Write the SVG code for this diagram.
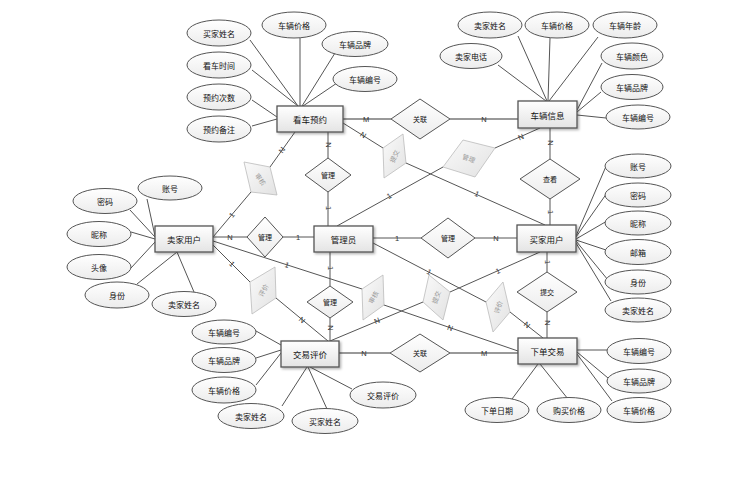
<svg xmlns="http://www.w3.org/2000/svg" width="752" height="485" viewBox="0 0 752 485">
<defs>
<linearGradient id="gE" x1="0" y1="0" x2="0" y2="1"><stop offset="0" stop-color="#ffffff"/><stop offset="1" stop-color="#e4e4e4"/></linearGradient>
<linearGradient id="gA" x1="0" y1="0" x2="0" y2="1"><stop offset="0" stop-color="#ffffff"/><stop offset="1" stop-color="#ececec"/></linearGradient>
<linearGradient id="gG" x1="0" y1="0" x2="1" y2="1"><stop offset="0" stop-color="#fafafa"/><stop offset="1" stop-color="#e2e2e2"/></linearGradient>
<filter id="sh" x="-20%" y="-20%" width="140%" height="150%"><feDropShadow dx="1.5" dy="1.5" stdDeviation="1" flood-color="#000" flood-opacity="0.3"/></filter>
</defs>
<style>
text{font-family:"Noto Sans CJK SC","Liberation Sans",sans-serif;text-anchor:middle;dominant-baseline:central;fill:#111}
.ent rect{fill:url(#gE);stroke:#555;stroke-width:1.3;filter:url(#sh)}
.ent text{font-size:8.5px}
.att ellipse{fill:url(#gA);stroke:#555;stroke-width:1}
.att text{font-size:8px}
.rel polygon{fill:url(#gA);stroke:#555;stroke-width:1}
.rel text{font-size:7px}
.grey polygon{fill:url(#gG);stroke:#bbb;stroke-width:0.8}
.grey text{font-size:6.5px;fill:#999}
.ln line{stroke:#555;stroke-width:1}
.ln line.thick{stroke:#999;stroke-width:2}
.lbl text{font-family:"Liberation Sans",sans-serif;font-size:7.5px;fill:#333}
</style>
<rect width="752" height="485" fill="#fff"/>
<g id="connectors" class="ln">
<!-- attribute lines 看车预约 -->
<line x1="250" y1="40" x2="298" y2="106"/>
<line x1="252" y1="70" x2="298" y2="106"/>
<line x1="300" y1="38" x2="300" y2="106"/>
<line x1="335" y1="53" x2="302" y2="106"/>
<line x1="337" y1="83" x2="303" y2="106"/>
<line x1="252" y1="100" x2="277" y2="117"/>
<line x1="252" y1="126" x2="277" y2="119"/>
<!-- 车辆信息 -->
<line x1="518" y1="36" x2="547" y2="101"/>
<line x1="550" y1="38" x2="548" y2="101"/>
<line x1="598" y1="37" x2="549" y2="101"/>
<line x1="498" y1="65" x2="546" y2="101"/>
<line x1="602" y1="63" x2="577" y2="110"/>
<line x1="601" y1="92" x2="577" y2="112"/>
<line x1="606" y1="118" x2="577" y2="115"/>
<!-- 卖家用户 -->
<line x1="147" y1="199" x2="155" y2="236"/>
<line x1="130" y1="210" x2="155" y2="237"/>
<line x1="131" y1="232" x2="155" y2="239"/>
<line x1="131" y1="268" x2="155" y2="242"/>
<line x1="137" y1="284" x2="177" y2="252"/>
<line x1="194" y1="292" x2="177" y2="252"/>
<!-- 买家用户 -->
<line x1="576" y1="236" x2="607" y2="164"/>
<line x1="576" y1="237" x2="607" y2="193"/>
<line x1="576" y1="239" x2="607" y2="221"/>
<line x1="576" y1="240" x2="606" y2="250"/>
<line x1="576" y1="241" x2="608" y2="280"/>
<line x1="576" y1="243" x2="611" y2="301"/>
<!-- 交易评价 -->
<line x1="256" y1="331" x2="281" y2="345"/>
<line x1="256" y1="358" x2="281" y2="350"/>
<line x1="256" y1="385" x2="281" y2="353"/>
<line x1="282" y1="406" x2="307" y2="367"/>
<line x1="327" y1="409" x2="308" y2="367"/>
<line x1="352" y1="389" x2="310" y2="367"/>
<!-- 下单交易 -->
<line x1="607" y1="350" x2="577" y2="350"/>
<line x1="608" y1="378" x2="577" y2="352"/>
<line x1="612" y1="401" x2="577" y2="354"/>
<line x1="512" y1="399" x2="538" y2="364"/>
<line x1="568" y1="399" x2="540" y2="364"/>
<!-- relationship lines -->
<line class="thick" x1="343" y1="119" x2="391" y2="119"/>
<line class="thick" x1="450" y1="119" x2="518" y2="119"/>
<line class="thick" x1="339" y1="353" x2="390" y2="353"/>
<line class="thick" x1="450" y1="353" x2="518" y2="353"/>
<line x1="328" y1="132" x2="328" y2="158"/>
<line x1="328" y1="192" x2="328" y2="226"/>
<line x1="213" y1="237" x2="247" y2="237"/>
<line x1="283" y1="237" x2="314" y2="237"/>
<line x1="373" y1="238" x2="421" y2="238"/>
<line x1="475" y1="238" x2="517" y2="238"/>
<line x1="330" y1="252" x2="330" y2="286"/>
<line x1="330" y1="318" x2="330" y2="341"/>
<line x1="550" y1="128" x2="550" y2="159"/>
<line x1="550" y1="199" x2="550" y2="225"/>
<line x1="547" y1="252" x2="547" y2="272"/>
<line x1="547" y1="312" x2="547" y2="338"/>
<line x1="213" y1="237" x2="251" y2="192"/>
<line x1="270" y1="167" x2="295" y2="132"/>
<line x1="343" y1="123" x2="383" y2="148"/>
<line x1="406" y1="163" x2="545" y2="225"/>
<line x1="337" y1="226" x2="443" y2="167"/>
<line x1="495" y1="148" x2="540" y2="128"/>
<line x1="213" y1="245" x2="250" y2="282"/>
<line x1="276" y1="298" x2="328" y2="341"/>
<line x1="213" y1="241" x2="362" y2="289"/>
<line x1="384" y1="305" x2="518" y2="351"/>
<line x1="423" y1="302" x2="330" y2="341"/>
<line x1="450" y1="292" x2="540" y2="252"/>
<line x1="373" y1="243" x2="486" y2="302"/>
<line x1="510" y1="312" x2="543" y2="338"/>
</g>
<g id="labels" class="lbl">
<text x="366" y="119">M</text>
<text x="484" y="119">N</text>
<text x="364" y="353">N</text>
<text x="484" y="353">M</text>
<text transform="translate(328,145) rotate(90)">N</text>
<text transform="translate(328,208) rotate(90)">1</text>
<text x="230" y="237">N</text>
<text x="298" y="237">1</text>
<text x="397" y="238">1</text>
<text x="496" y="238">N</text>
<text transform="translate(330,268) rotate(90)">1</text>
<text transform="translate(330,328) rotate(90)">N</text>
<text transform="translate(550,143) rotate(90)">N</text>
<text transform="translate(550,212) rotate(90)">1</text>
<text transform="translate(547,262) rotate(90)">1</text>
<text transform="translate(547,323) rotate(90)">N</text>
<text transform="translate(232,215) rotate(-50)">1</text>
<text transform="translate(282,150) rotate(-55)">N</text>
<text transform="translate(363,135) rotate(32)">N</text>
<text transform="translate(477,194) rotate(24)">1</text>
<text transform="translate(389,196) rotate(-29)">1</text>
<text transform="translate(521,137) rotate(-24)">N</text>
<text transform="translate(232,264) rotate(45)">1</text>
<text transform="translate(302,320) rotate(40)">N</text>
<text transform="translate(287,265) rotate(18)">1</text>
<text transform="translate(450,328) rotate(19)">N</text>
<text transform="translate(377,321) rotate(-23)">N</text>
<text transform="translate(498,271) rotate(-24)">1</text>
<text transform="translate(429,272) rotate(28)">1</text>
<text transform="translate(527,325) rotate(38)">N</text>
</g>
<!-- entities -->
<g id="e-kanche" class="ent"><rect x="277" y="106" width="66" height="26"/><text x="310" y="119">看车预约</text></g>
<g id="e-cheliang" class="ent"><rect x="518" y="101" width="59" height="27"/><text x="547.5" y="114.5">车辆信息</text></g>
<g id="e-maijia-sell" class="ent"><rect x="155" y="226" width="58" height="26"/><text x="184" y="239">卖家用户</text></g>
<g id="e-admin" class="ent"><rect x="314" y="226" width="59" height="26"/><text x="343.5" y="239">管理员</text></g>
<g id="e-buyer" class="ent"><rect x="517" y="225" width="59" height="27"/><text x="546.5" y="238.5">买家用户</text></g>
<g id="e-pingjia" class="ent"><rect x="281" y="341" width="58" height="26"/><text x="310" y="354">交易评价</text></g>
<g id="e-order" class="ent"><rect x="518" y="338" width="59" height="26"/><text x="547.5" y="351">下单交易</text></g>
<!-- relationships -->
<g id="r-guanlian1" class="rel"><polygon points="391,119 420,99 450,119 420,139"/><text x="420" y="119">关联</text></g>
<g id="r-guanli1" class="rel"><polygon points="305,175 328,158 351,175 328,192"/><text x="328" y="175">管理</text></g>
<g id="r-guanli2" class="rel"><polygon points="247,237 265,217 283,237 265,257"/><text x="265" y="237">管理</text></g>
<g id="r-guanli3" class="rel"><polygon points="421,238 448,218 475,238 448,258"/><text x="448" y="238">管理</text></g>
<g id="r-guanli4" class="rel"><polygon points="307,302 330,286 353,302 330,318"/><text x="330" y="302">管理</text></g>
<g id="r-chakan" class="rel"><polygon points="520,179 550,159 580,179 550,199"/><text x="550" y="179">查看</text></g>
<g id="r-tijiao" class="rel"><polygon points="517,292 547,272 577,292 547,312"/><text x="547" y="292">提交</text></g>
<g id="r-guanlian2" class="rel"><polygon points="390,353 420,334 450,353 420,372"/><text x="420" y="353">关联</text></g>
<!-- grey skewed relationships -->
<g id="g-shenhe1" class="grey"><polygon points="244,162 270,167 277,195 251,192"/><text transform="translate(261,179) rotate(55)">审核</text></g>
<g id="g-tijiao1" class="grey"><polygon points="383,148 403,134 406,163 384,178"/><text transform="translate(394,156) rotate(-65)">提交</text></g>
<g id="g-guanli" class="grey"><polygon points="443,167 463,140 495,148 475,177"/><text transform="translate(469,158) rotate(20)">管理</text></g>
<g id="g-pingjia1" class="grey"><polygon points="250,282 275,267 276,298 252,314"/><text transform="translate(263,290) rotate(-62)">评价</text></g>
<g id="g-shenhe2" class="grey"><polygon points="362,289 383,275 384,305 363,320"/><text transform="translate(373,297) rotate(-62)">审核</text></g>
<g id="g-tijiao2" class="grey"><polygon points="423,302 429,275 450,292 443,320"/><text transform="translate(436,297) rotate(-70)">提交</text></g>
<g id="g-pingjia2" class="grey"><polygon points="486,302 503,282 510,312 493,332"/><text transform="translate(498,307) rotate(-72)">评价</text></g>
<!-- attributes -->
<g id="a-k1" class="att"><ellipse cx="219" cy="33" rx="32" ry="13"/><text x="219" y="33">买家姓名</text></g>
<g id="a-k2" class="att"><ellipse cx="294" cy="25" rx="32" ry="13"/><text x="294" y="25">车辆价格</text></g>
<g id="a-k3" class="att"><ellipse cx="355" cy="44" rx="33" ry="12.5"/><text x="355" y="44">车辆品牌</text></g>
<g id="a-k4" class="att"><ellipse cx="365" cy="79" rx="32" ry="12.5"/><text x="365" y="79">车辆编号</text></g>
<g id="a-k5" class="att"><ellipse cx="219" cy="65" rx="32" ry="13"/><text x="219" y="65">看车时间</text></g>
<g id="a-k6" class="att"><ellipse cx="219" cy="97" rx="32" ry="13"/><text x="219" y="97">预约次数</text></g>
<g id="a-k7" class="att"><ellipse cx="219" cy="129" rx="32" ry="13"/><text x="219" y="129">预约备注</text></g>
<g id="a-c1" class="att"><ellipse cx="490" cy="25" rx="32" ry="13"/><text x="490" y="25">卖家姓名</text></g>
<g id="a-c2" class="att"><ellipse cx="557" cy="25" rx="32" ry="13"/><text x="557" y="25">车辆价格</text></g>
<g id="a-c3" class="att"><ellipse cx="625" cy="25" rx="32" ry="13"/><text x="625" y="25">车辆年龄</text></g>
<g id="a-c4" class="att"><ellipse cx="471" cy="56" rx="31" ry="12.5"/><text x="471" y="56">卖家电话</text></g>
<g id="a-c5" class="att"><ellipse cx="632" cy="56" rx="31" ry="13"/><text x="632" y="56">车辆颜色</text></g>
<g id="a-c6" class="att"><ellipse cx="632" cy="87" rx="31" ry="12.5"/><text x="632" y="87">车辆品牌</text></g>
<g id="a-c7" class="att"><ellipse cx="638" cy="117" rx="32" ry="12"/><text x="638" y="117">车辆编号</text></g>
<g id="a-s1" class="att"><ellipse cx="170" cy="188" rx="32" ry="12"/><text x="170" y="188">账号</text></g>
<g id="a-s2" class="att"><ellipse cx="105" cy="201" rx="32" ry="12.5"/><text x="105" y="201">密码</text></g>
<g id="a-s3" class="att"><ellipse cx="99" cy="234" rx="32" ry="12.5"/><text x="99" y="234">昵称</text></g>
<g id="a-s4" class="att"><ellipse cx="99" cy="267" rx="32" ry="12.5"/><text x="99" y="267">头像</text></g>
<g id="a-s5" class="att"><ellipse cx="117" cy="295" rx="32" ry="13"/><text x="117" y="295">身份</text></g>
<g id="a-s6" class="att"><ellipse cx="184" cy="304" rx="32" ry="12.5"/><text x="184" y="304">卖家姓名</text></g>
<g id="a-b1" class="att"><ellipse cx="638" cy="166" rx="33" ry="12"/><text x="638" y="166">账号</text></g>
<g id="a-b2" class="att"><ellipse cx="638" cy="195" rx="33" ry="12"/><text x="638" y="195">密码</text></g>
<g id="a-b3" class="att"><ellipse cx="638" cy="223" rx="33" ry="12"/><text x="638" y="223">昵称</text></g>
<g id="a-b4" class="att"><ellipse cx="638" cy="252" rx="33" ry="12.5"/><text x="638" y="252">邮箱</text></g>
<g id="a-b5" class="att"><ellipse cx="638" cy="282" rx="33" ry="12"/><text x="638" y="282">身份</text></g>
<g id="a-b6" class="att"><ellipse cx="638" cy="310" rx="33" ry="12"/><text x="638" y="310">卖家姓名</text></g>
<g id="a-p1" class="att"><ellipse cx="224" cy="332" rx="32" ry="12"/><text x="224" y="332">车辆编号</text></g>
<g id="a-p2" class="att"><ellipse cx="224" cy="360" rx="32" ry="12.5"/><text x="224" y="360">车辆品牌</text></g>
<g id="a-p3" class="att"><ellipse cx="224" cy="390" rx="32" ry="13"/><text x="224" y="390">车辆价格</text></g>
<g id="a-p4" class="att"><ellipse cx="251" cy="416" rx="33" ry="12.5"/><text x="251" y="416">卖家姓名</text></g>
<g id="a-p5" class="att"><ellipse cx="325" cy="421" rx="33" ry="12.5"/><text x="325" y="421">买家姓名</text></g>
<g id="a-p6" class="att"><ellipse cx="383" cy="395" rx="33" ry="13"/><text x="383" y="395">交易评价</text></g>
<g id="a-o1" class="att"><ellipse cx="639" cy="351" rx="32" ry="12.5"/><text x="639" y="351">车辆编号</text></g>
<g id="a-o2" class="att"><ellipse cx="639" cy="381" rx="32" ry="12"/><text x="639" y="381">车辆品牌</text></g>
<g id="a-o3" class="att"><ellipse cx="639" cy="410" rx="32" ry="12.5"/><text x="639" y="410">车辆价格</text></g>
<g id="a-o4" class="att"><ellipse cx="497" cy="410" rx="32" ry="12.5"/><text x="497" y="410">下单日期</text></g>
<g id="a-o5" class="att"><ellipse cx="569" cy="410" rx="32" ry="12.5"/><text x="569" y="410">购买价格</text></g>
</svg>
